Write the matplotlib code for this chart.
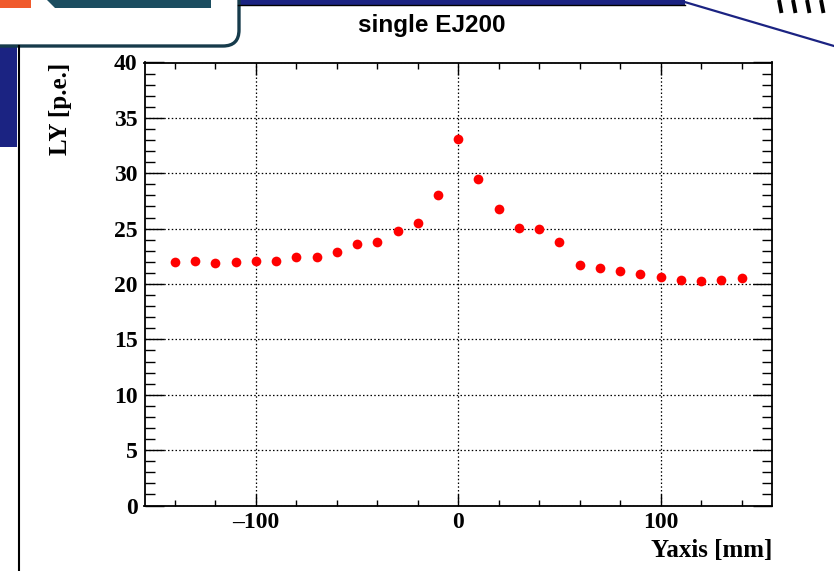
import matplotlib
matplotlib.use("Agg")
import matplotlib.pyplot as plt
from matplotlib.patches import Rectangle, Polygon, FancyBboxPatch
from matplotlib.lines import Line2D
from matplotlib.transforms import Affine2D
from matplotlib.ticker import MultipleLocator

# ---- data ----
positions = [-140, -130, -120, -110, -100, -90, -80, -70, -60, -50, -40, -30, -20, -10,
             0, 10, 20, 30, 40, 50, 60, 70, 80, 90, 100, 110, 120, 130, 140]
ly_values = [22.0, 22.1, 21.9, 21.95, 22.05, 22.05, 22.4, 22.4, 22.9, 23.6, 23.8, 24.8, 25.5, 28.0,
             33.05, 29.5, 26.8, 25.1, 25.0, 23.8, 21.7, 21.4, 21.2, 20.9, 20.6, 20.35, 20.25, 20.4, 20.5]
title = "single EJ200"
xlabel = "Yaxis [mm]"
ylabel = "LY [p.e.]"

W, H = 834, 571
fig = plt.figure(figsize=(W / 100, H / 100), dpi=100)
fig.patch.set_facecolor("white")

# pixel transform for decorations
px = Affine2D().scale(1 / W, -1 / H).translate(0, 1) + fig.transFigure

navy = "#1b2382"
teal = "#1b4d60"
orange = "#f05a2c"

# left navy bar and vertical line
fig.add_artist(Rectangle((0, 47), 17, 100, transform=px, color=navy, lw=0))
fig.add_artist(Line2D([19, 19], [46, 571], transform=px, color="black", lw=1.5))
# top navy strip
fig.add_artist(Rectangle((238, 0), 447, 4.5, transform=px, color=navy, lw=0))
fig.add_artist(Line2D([238, 685], [5, 5], transform=px, color="black", lw=1.0))
fig.add_artist(Line2D([683, 834], [1.5, 46], transform=px, color=navy, lw=1.6))
# marks top right
for x0 in [779, 793, 807, 821]:
    fig.add_artist(Line2D([x0, x0 + 2.5], [0, 13], transform=px, color="black", lw=2.8,
                          solid_capstyle="butt"))
# rounded box top-left
box = FancyBboxPatch((-40, -40), 279, 86, boxstyle="round,pad=0,rounding_size=16",
                     transform=px, facecolor="white", edgecolor="#163b4b", lw=2.4)
fig.add_artist(box)
fig.add_artist(Polygon([(47, 0), (211, 0), (211, 8), (55, 8)], closed=True, transform=px,
                       color=teal, lw=0))
fig.add_artist(Rectangle((0, 0), 31, 8, transform=px, color=orange, lw=0))

# ---- axes ----
left, right, top, bottom = 144.5, 772, 62.5, 505.5
ax = fig.add_axes([left / W, 1 - bottom / H, (right - left) / W, (bottom - top) / H])
ax.plot(positions, ly_values, "o", color="#ff0000", markersize=7.0, markeredgewidth=0, zorder=3)

ax.set_xlim(-155, 155)
ax.set_ylim(0, 40)
ax.xaxis.set_major_locator(MultipleLocator(100))
ax.xaxis.set_minor_locator(MultipleLocator(20))
ax.yaxis.set_major_locator(MultipleLocator(5))
ax.yaxis.set_minor_locator(MultipleLocator(1))

ax.grid(True, which="major", color="black", linestyle=(0, (1.2, 1.8)), lw=0.9)
for s in ax.spines.values():
    s.set_linewidth(1.3)
    s.set_color("black")

tickfont = dict(family="Liberation Serif", weight="bold", size=17)
ax.tick_params(axis="both", which="both", direction="in", top=True, right=True, color="black")
ax.tick_params(axis="x", which="major", length=8.6, width=1.0, pad=5)
ax.tick_params(axis="x", which="minor", length=4.3, width=1.0)
ax.tick_params(axis="y", which="major", length=13.7, width=1.0, pad=5)
ax.tick_params(axis="y", which="minor", length=7.2, width=1.0)
ax.set_xticks([-100, 0, 100])
ax.set_xticklabels(["\u2013100", "0", "100"], fontdict=tickfont)
ax.set_yticks(range(0, 41, 5))
ax.set_yticklabels([str(v) for v in range(0, 41, 5)], fontdict=tickfont)

# axis titles
fig.text(right / W, 1 - 557 / H, xlabel, ha="right", va="baseline",
         family="Liberation Serif", weight="bold", size=18)
fig.text(61 / W, 1 - 63 / H, ylabel, ha="center", va="top", rotation=90,
         family="Liberation Serif", weight="bold", size=18)
fig.text(432 / W, 1 - 32 / H, title, ha="center", va="baseline",
         family="Liberation Sans", weight="bold", size=17.5)

fig.savefig("out.png", dpi=100)
